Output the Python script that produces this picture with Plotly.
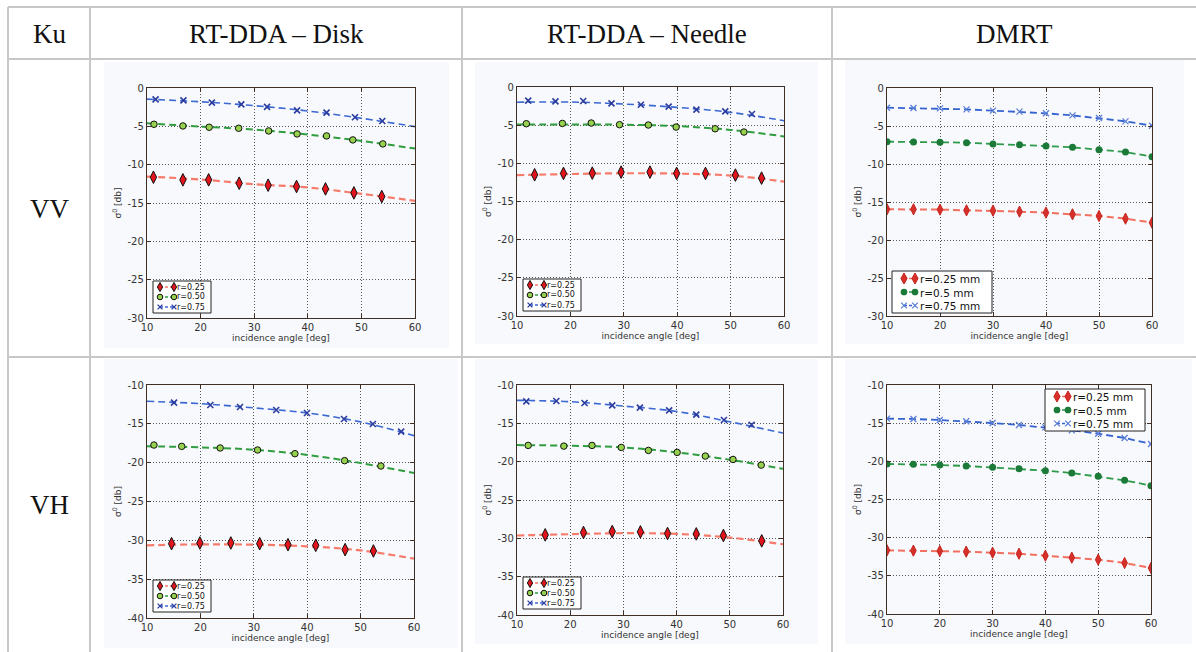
import plotly.graph_objects as go

W, H = 1196, 652

# ---------------- data ----------------
HEADERS = ["Ku", "RT-DDA \u2013 Disk", "RT-DDA \u2013 Needle", "DMRT"]
ROW_LABELS = ["VV", "VH"]
RTDDA_LABELS = ["r=0.25", "r=0.50", "r=0.75"]
DMRT_LABELS = ["r=0.25 mm", "r=0.5 mm", "r=0.75 mm"]
X_TITLE = "incidence angle [deg]"
Y_TITLE = "\u03c3<sup>0</sup> [db]"

X_TICKS = [10, 20, 30, 40, 50, 60]
VV_Y_TICKS = [-30, -25, -20, -15, -10, -5, 0]
VH_Y_TICKS = [-40, -35, -30, -25, -20, -15, -10]

FIT_X = [10, 20, 30, 40, 50, 60]
DMRT_X = [10, 15, 20, 25, 30, 35, 40, 45, 50, 55, 60]

# RT-DDA Disk, VV
DISK_VV_R025_X = [11.2, 16.7, 21.5, 27.2, 32.6, 37.9, 43.3, 48.6, 53.8]
DISK_VV_R025_Y = [-11.64, -11.98, -11.98, -12.42, -12.68, -12.85, -13.16, -13.68, -14.16]
DISK_VV_R050_X = [11.3, 16.7, 21.6, 27.1, 32.7, 38.0, 43.5, 48.4, 54.0]
DISK_VV_R050_Y = [-4.73, -4.95, -5.12, -5.25, -5.60, -5.99, -6.25, -6.77, -7.29]
DISK_VV_R075_X = [11.6, 16.8, 22.1, 27.6, 32.4, 38.0, 43.5, 48.8, 53.9]
DISK_VV_R075_Y = [-1.48, -1.61, -1.91, -2.13, -2.47, -2.91, -3.21, -3.82, -4.30]
DISK_VV_R025_FIT = [-11.55, -11.93, -12.55, -12.97, -13.80, -14.72]
DISK_VV_R050_FIT = [-4.60, -5.03, -5.43, -6.07, -6.90, -7.90]
DISK_VV_R075_FIT = [-1.45, -1.80, -2.30, -3.00, -3.95, -5.04]

# RT-DDA Needle, VV
NEEDLE_VV_R025_X = [13.3, 18.7, 24.1, 29.5, 34.9, 39.9, 45.3, 50.9, 55.8]
NEEDLE_VV_R025_Y = [-11.50, -11.32, -11.28, -11.15, -11.15, -11.32, -11.32, -11.54, -11.94]
NEEDLE_VV_R050_X = [11.75, 18.5, 23.9, 29.2, 34.6, 39.8, 47.1, 52.5]
NEEDLE_VV_R050_Y = [-4.81, -4.77, -4.72, -4.94, -4.98, -5.25, -5.47, -5.90]
NEEDLE_VV_R075_X = [12.1, 17.2, 22.4, 27.7, 33.2, 38.4, 43.6, 49.0, 54.0]
NEEDLE_VV_R075_Y = [-1.79, -1.88, -1.84, -2.14, -2.32, -2.58, -2.97, -3.19, -3.54]
NEEDLE_VV_R025_FIT = [-11.55, -11.40, -11.30, -11.35, -11.60, -12.40]
NEEDLE_VV_R050_FIT = [-4.92, -4.90, -4.95, -5.12, -5.62, -6.47]
NEEDLE_VV_R075_FIT = [-2.00, -1.97, -2.23, -2.67, -3.32, -4.42]

# DMRT, VV
DMRT_VV_R025 = [-15.96, -15.96, -16.00, -16.10, -16.14, -16.27, -16.40, -16.62, -16.84, -17.19, -17.72]
DMRT_VV_R050 = [-7.06, -7.11, -7.15, -7.19, -7.37, -7.46, -7.63, -7.81, -8.11, -8.42, -9.04]
DMRT_VV_R075 = [-2.59, -2.63, -2.68, -2.81, -2.98, -3.11, -3.33, -3.60, -3.95, -4.39, -4.96]

# RT-DDA Disk, VH
DISK_VH_R025_X = [14.6, 19.9, 25.7, 31.1, 36.4, 41.6, 47.1, 52.4]
DISK_VH_R025_Y = [-30.43, -30.34, -30.34, -30.43, -30.56, -30.64, -31.20, -31.37]
DISK_VH_R050_X = [11.3, 16.5, 23.7, 30.7, 37.7, 47.0, 53.8]
DISK_VH_R050_Y = [-17.73, -17.90, -18.11, -18.37, -18.84, -19.74, -20.43]
DISK_VH_R075_X = [15.06, 21.86, 27.42, 34.2, 39.96, 46.89, 52.3, 57.6]
DISK_VH_R075_Y = [-12.27, -12.58, -12.83, -13.22, -13.61, -14.38, -15.02, -16.00]
DISK_VH_R025_FIT = [-30.64, -30.52, -30.56, -30.77, -31.30, -32.36]
DISK_VH_R050_FIT = [-17.90, -18.03, -18.33, -19.00, -20.05, -21.33]
DISK_VH_R075_FIT = [-12.10, -12.40, -12.95, -13.60, -14.75, -16.52]

# RT-DDA Needle, VH
NEEDLE_VH_R025_X = [15.3, 22.5, 27.9, 33.2, 38.3, 43.7, 48.8, 56.0]
NEEDLE_VH_R025_Y = [-29.55, -29.24, -29.11, -29.16, -29.37, -29.42, -29.63, -30.33]
NEEDLE_VH_R050_X = [12.1, 18.8, 24.1, 29.6, 34.7, 40.1, 45.4, 50.6, 55.9]
NEEDLE_VH_R050_Y = [-17.88, -17.97, -17.88, -18.14, -18.53, -18.79, -19.27, -19.71, -20.45]
NEEDLE_VH_R075_X = [11.75, 17.4, 22.7, 27.9, 33.1, 38.6, 43.7, 48.9, 54.1]
NEEDLE_VH_R075_Y = [-12.13, -12.09, -12.35, -12.66, -12.96, -13.31, -13.87, -14.57, -15.18]
NEEDLE_VH_R025_FIT = [-29.63, -29.46, -29.33, -29.42, -29.90, -30.77]
NEEDLE_VH_R050_FIT = [-17.84, -17.92, -18.14, -18.78, -19.75, -20.93]
NEEDLE_VH_R075_FIT = [-12.00, -12.18, -12.75, -13.45, -14.80, -16.27]

# DMRT, VH
DMRT_VH_R025 = [-31.66, -31.70, -31.75, -31.83, -31.97, -32.10, -32.36, -32.62, -32.88, -33.32, -33.97]
DMRT_VH_R050 = [-20.35, -20.39, -20.48, -20.61, -20.79, -20.96, -21.22, -21.53, -21.97, -22.49, -23.19]
DMRT_VH_R075 = [-14.41, -14.45, -14.59, -14.76, -14.98, -15.24, -15.55, -15.94, -16.38, -16.94, -17.73]

# ---------------- styles ----------------
FRAME = "#3e2e24"
TICKFONT = dict(family="DejaVu Sans", size=10, color="#333333")
TITLEFONT = dict(family="DejaVu Sans", size=9, color="#333333")
SERIF = "Liberation Serif"
TABLE_LINE = "#c8c8c8"
IMG_BG = "#f8f9fc"

RT_STYLES = [
    dict(line="#f77b6b", lw=2.2, sym="diamond-tall", size=9, fill="#e3141c", edge="#111111", ew=1),
    dict(line="#2f9d40", lw=2.0, sym="circle", size=6.5, fill="#97d24e", edge="#111111", ew=1),
    dict(line="#3b68d2", lw=1.6, sym="x-thin", size=6, fill="#2b3c9f", edge="#2b3c9f", ew=1.6),
]
DM_STYLES = [
    dict(line="#f2705f", lw=2.0, sym="diamond-tall", size=8, fill="#d7302a", edge="#c52420", ew=1),
    dict(line="#2c9a49", lw=1.8, sym="circle", size=7, fill="#1c7a39", edge="#1c7a39", ew=0),
    dict(line="#3563d0", lw=1.8, sym="x-thin", size=6, fill="#5b7fd6", edge="#5b7fd6", ew=1.3),
]
DASH = "7px,4px"

# legend layouts (pixel offsets inside legend box)
RT_LEG = dict(w=58, h=32, rows=[6, 16, 26], mk=[7, 21], tx=23, font=8, scale=1.0)
DM_LEG = dict(w=100, h=42, rows=[7.5, 21, 34.5], mk=[12, 23], tx=27, font=10.5, scale=1.2)

# panel boxes in pixels: (left, top, right, bottom)
PANELS = [
    dict(box=(147, 88, 415, 318), kind="rt", yticks=VV_Y_TICKS,
         series=[(DISK_VV_R025_X, DISK_VV_R025_Y, DISK_VV_R025_FIT),
                 (DISK_VV_R050_X, DISK_VV_R050_Y, DISK_VV_R050_FIT),
                 (DISK_VV_R075_X, DISK_VV_R075_Y, DISK_VV_R075_FIT)],
         leg=(153, 281)),
    dict(box=(517, 87, 784, 316), kind="rt", yticks=VV_Y_TICKS,
         series=[(NEEDLE_VV_R025_X, NEEDLE_VV_R025_Y, NEEDLE_VV_R025_FIT),
                 (NEEDLE_VV_R050_X, NEEDLE_VV_R050_Y, NEEDLE_VV_R050_FIT),
                 (NEEDLE_VV_R075_X, NEEDLE_VV_R075_Y, NEEDLE_VV_R075_FIT)],
         leg=(523, 279)),
    dict(box=(887, 88, 1152, 316), kind="dm", yticks=VV_Y_TICKS,
         series=[DMRT_VV_R025, DMRT_VV_R050, DMRT_VV_R075],
         leg=(892, 271)),
    dict(box=(147, 385, 414, 618), kind="rt", yticks=VH_Y_TICKS,
         series=[(DISK_VH_R025_X, DISK_VH_R025_Y, DISK_VH_R025_FIT),
                 (DISK_VH_R050_X, DISK_VH_R050_Y, DISK_VH_R050_FIT),
                 (DISK_VH_R075_X, DISK_VH_R075_Y, DISK_VH_R075_FIT)],
         leg=(153, 580)),
    dict(box=(517, 385, 783, 615), kind="rt", yticks=VH_Y_TICKS,
         series=[(NEEDLE_VH_R025_X, NEEDLE_VH_R025_Y, NEEDLE_VH_R025_FIT),
                 (NEEDLE_VH_R050_X, NEEDLE_VH_R050_Y, NEEDLE_VH_R050_FIT),
                 (NEEDLE_VH_R075_X, NEEDLE_VH_R075_Y, NEEDLE_VH_R075_FIT)],
         leg=(523, 577)),
    dict(box=(887, 385, 1151, 614), kind="dm", yticks=VH_Y_TICKS,
         series=[DMRT_VH_R025, DMRT_VH_R050, DMRT_VH_R075],
         leg=(1045, 389)),
]

IMG_BOXES = [(104, 62, 449, 348), (475, 62, 818, 344), (845, 60, 1184, 344),
             (104, 359, 458, 648), (475, 359, 818, 644), (845, 359, 1192, 644)]


def fx(px):
    return px / W


def fy(py):
    return 1 - py / H


def glyph_shapes(sym, cx, cy, s, scale):
    out = []
    if sym == "diamond-tall":
        hw, hh = 2.6 * scale, 4.6 * scale
        path = "M {},{} L {},{} L {},{} L {},{} Z".format(
            fx(cx), fy(cy - hh), fx(cx + hw), fy(cy), fx(cx), fy(cy + hh), fx(cx - hw), fy(cy))
        out.append(dict(type="path", path=path, xref="paper", yref="paper", layer="above",
                        fillcolor=s["fill"], line=dict(color=s["edge"], width=s["ew"])))
    elif sym == "circle":
        r = 2.8 * scale
        out.append(dict(type="circle", xref="paper", yref="paper", layer="above",
                        x0=fx(cx - r), x1=fx(cx + r), y0=fy(cy + r), y1=fy(cy - r),
                        fillcolor=s["fill"], line=dict(color=s["edge"], width=s["ew"])))
    else:
        r = 2.4 * scale
        for (ax, ay, bx, by) in ((-r, -r, r, r), (-r, r, r, -r)):
            out.append(dict(type="line", xref="paper", yref="paper", layer="above",
                            x0=fx(cx + ax), y0=fy(cy + ay), x1=fx(cx + bx), y1=fy(cy + by),
                            line=dict(color=s["fill"], width=1.3)))
    return out


fig = go.Figure()
layout = dict(
    width=W, height=H, margin=dict(l=0, r=0, t=0, b=0),
    paper_bgcolor="white", plot_bgcolor="white", showlegend=False,
    font=dict(family="DejaVu Sans", color="#333333"),
    shapes=[], annotations=[],
)
legend_shapes = []

for i, p in enumerate(PANELS):
    n = i + 1
    sfx = "" if n == 1 else str(n)
    xa, ya = "x" + sfx, "y" + sfx
    l, t, r, b = p["box"]
    common = dict(showline=True, linecolor=FRAME, linewidth=1.4, mirror="ticks",
                  ticks="inside", ticklen=4, tickwidth=1, tickcolor=FRAME,
                  showgrid=True, gridcolor="#555555", griddash="1px,2px", gridwidth=1,
                  zeroline=False, tickfont=TICKFONT, automargin=False, fixedrange=True)
    layout["xaxis" + sfx] = dict(common, domain=[fx(l), fx(r)], range=[10, 60],
                                 tickvals=X_TICKS, ticktext=[str(v) for v in X_TICKS],
                                 anchor=ya,
                                 title=dict(text=X_TITLE, font=TITLEFONT, standoff=1))
    yt = p["yticks"]
    layout["yaxis" + sfx] = dict(common, domain=[fy(b), fy(t)], range=[yt[0], yt[-1]],
                                 tickvals=yt, ticktext=[str(v) for v in yt], anchor=xa,
                                 title=dict(text=Y_TITLE, font=TITLEFONT, standoff=4))

    if p["kind"] == "rt":
        styles, labels, lg = RT_STYLES, RTDDA_LABELS, RT_LEG
        for k, (mx, my, fit) in enumerate(p["series"]):
            s = styles[k]
            fig.add_trace(go.Scatter(x=FIT_X, y=fit, mode="lines", line_shape="spline",
                                     name=labels[k],
                                     line=dict(color=s["line"], width=s["lw"], dash=DASH),
                                     hoverinfo="skip", xaxis=xa, yaxis=ya))
            fig.add_trace(go.Scatter(x=mx, y=my, mode="markers", name=labels[k],
                                     marker=dict(symbol=s["sym"], size=s["size"], color=s["fill"],
                                                 line=dict(color=s["edge"], width=s["ew"])),
                                     xaxis=xa, yaxis=ya))
    else:
        styles, labels, lg = DM_STYLES, DMRT_LABELS, DM_LEG
        for k, ys in enumerate(p["series"]):
            s = styles[k]
            fig.add_trace(go.Scatter(x=DMRT_X, y=ys, mode="lines+markers", name=labels[k],
                                     line=dict(color=s["line"], width=s["lw"], dash=DASH),
                                     marker=dict(symbol=s["sym"], size=s["size"], color=s["fill"],
                                                 line=dict(color=s["edge"], width=s["ew"])),
                                     xaxis=xa, yaxis=ya))

    # legend box drawn in the matplotlib style (compact rows)
    L, T = p["leg"]
    legend_shapes.append(dict(type="rect", xref="paper", yref="paper", layer="above",
                              x0=fx(L), x1=fx(L + lg["w"]), y0=fy(T + lg["h"]), y1=fy(T),
                              fillcolor="white", line=dict(color="#222222", width=1)))
    for k, lab in enumerate(labels):
        s = styles[k]
        cy = T + lg["rows"][k]
        m0, m1 = L + lg["mk"][0], L + lg["mk"][1]
        legend_shapes.append(dict(type="line", xref="paper", yref="paper", layer="above",
                                  x0=fx(m0), x1=fx(m1), y0=fy(cy), y1=fy(cy),
                                  line=dict(color=s["line"], width=1.6, dash="3px,2px")))
        legend_shapes += glyph_shapes(s["sym"], m0, cy, s, lg["scale"])
        legend_shapes += glyph_shapes(s["sym"], m1, cy, s, lg["scale"])
    if p["kind"] == "rt":
        for k, lab in enumerate(labels):
            layout["annotations"].append(dict(text=lab, xref="paper", yref="paper",
                                              x=fx(L + lg["tx"]), y=fy(T + lg["rows"][k]),
                                              xanchor="left", yanchor="middle", showarrow=False,
                                              borderpad=0,
                                              font=dict(family="DejaVu Sans", size=lg["font"],
                                                        color="#111111")))
    else:
        layout["annotations"].append(dict(text="<br>".join(labels), xref="paper", yref="paper",
                                          x=fx(L + lg["tx"]), y=fy(T + lg["rows"][1]),
                                          xanchor="left", yanchor="middle", align="left",
                                          showarrow=False, borderpad=0,
                                          font=dict(family="DejaVu Sans", size=lg["font"],
                                                    color="#111111")))

# image backgrounds
for (x0, y0, x1, y1) in IMG_BOXES:
    layout["shapes"].append(dict(type="rect", xref="paper", yref="paper", layer="below",
                                 x0=fx(x0), x1=fx(x1), y0=fy(y1), y1=fy(y0),
                                 fillcolor=IMG_BG, line=dict(width=0)))

# table rules
for yy in (7, 59, 357):
    layout["shapes"].append(dict(type="line", xref="paper", yref="paper", x0=fx(8), x1=1,
                                 y0=fy(yy), y1=fy(yy), line=dict(color=TABLE_LINE, width=2)))
for xx in (8, 90, 462, 832):
    layout["shapes"].append(dict(type="line", xref="paper", yref="paper", x0=fx(xx), x1=fx(xx),
                                 y0=fy(7), y1=0, line=dict(color=TABLE_LINE, width=2)))

layout["shapes"] += legend_shapes

# header and row labels
HEADER_CENTERS = [49, 276, 647, 1014]
for txt, cx in zip(HEADERS, HEADER_CENTERS):
    layout["annotations"].append(dict(text=txt, xref="paper", yref="paper", x=fx(cx), y=fy(34),
                                      xanchor="center", yanchor="middle", showarrow=False,
                                      font=dict(family=SERIF, size=27, color="#111111")))
for txt, cy in zip(ROW_LABELS, [209, 505]):
    layout["annotations"].append(dict(text=txt, xref="paper", yref="paper", x=fx(49), y=fy(cy),
                                      xanchor="center", yanchor="middle", showarrow=False,
                                      font=dict(family=SERIF, size=27, color="#111111")))

fig.update_layout(**layout)
fig.write_html("out.html", config={"displayModeBar": False},
               post_script="document.body.style.margin='0';document.body.style.overflow='hidden';")
